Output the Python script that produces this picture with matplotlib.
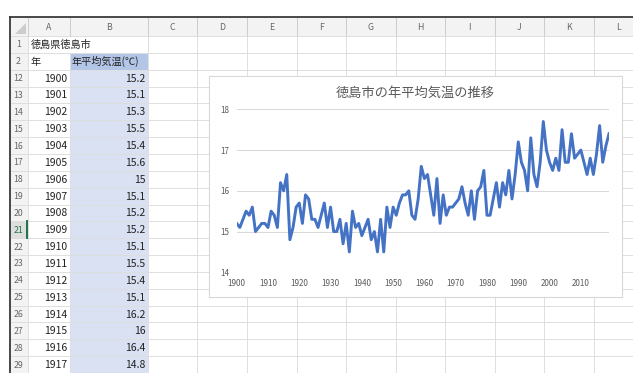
import matplotlib
matplotlib.use("Agg")
import matplotlib.pyplot as plt
from matplotlib.patches import Rectangle, Polygon

plt.rcParams['font.family'] = ['Noto Sans CJK JP', 'DejaVu Sans']

# data
years = list(range(1900, 2020))
temps = [
    15.2, 15.1, 15.3, 15.5, 15.4, 15.6, 15.0, 15.1, 15.2, 15.2,  # 1900s
    15.1, 15.5, 15.4, 15.1, 16.2, 16.0, 16.4, 14.8, 15.1, 15.6,  # 1910s
    15.7, 15.2, 15.9, 15.8, 15.3, 15.3, 15.1, 15.4, 15.7, 15.1,  # 1920s
    15.6, 15.0, 15.0, 15.3, 14.7, 15.2, 14.5, 15.5, 15.1, 15.2,  # 1930s
    14.9, 15.1, 15.3, 14.8, 15.0, 14.5, 15.3, 14.5, 15.6, 15.1,  # 1940s
    15.6, 15.4, 15.7, 15.9, 15.9, 16.0, 15.4, 15.3, 15.8, 16.6,  # 1950s
    16.3, 16.4, 15.9, 15.4, 16.3, 15.2, 15.9, 15.4, 15.6, 15.6,  # 1960s
    15.7, 15.8, 16.1, 15.7, 15.4, 16.0, 15.3, 16.0, 16.1, 16.5,  # 1970s
    15.4, 15.4, 15.8, 16.2, 15.6, 16.2, 15.9, 16.5, 15.8, 16.4,  # 1980s
    17.2, 16.7, 16.5, 16.0, 17.3, 16.4, 16.1, 16.7, 17.7, 17.0,  # 1990s
    16.7, 16.5, 16.8, 16.5, 17.5, 16.7, 16.7, 17.4, 16.8, 16.9,  # 2000s
    17.0, 16.7, 16.4, 16.8, 16.4, 16.9, 17.6, 16.7, 17.1, 17.4,  # 2010s
]
col_letters = ['A', 'B', 'C', 'D', 'E', 'F', 'G', 'H', 'I', 'J', 'K', 'L']
row_labels = ['1', '2'] + [str(r) for r in range(12, 30)]
n_table = 18  # rows 12..29 show 1900..1917

W, H = 633, 373
fig = plt.figure(figsize=(W / 100, H / 100), dpi=100)
bg = fig.add_axes([0, 0, 1, 1])
bg.set_xlim(0, W)
bg.set_ylim(H, 0)
bg.axis('off')

col_edges = [10, 27.5, 70, 147.5, 197, 246.6, 296.5, 346, 395.5, 445, 494.5, 544, 593.5, 643]
top = 17
head_h = 19
row_h = 16.85
row_tops = [top + head_h + i * row_h for i in range(len(row_labels))]
grid_c = '#dedede'
head_c = '#f3f3f3'

# header backgrounds
bg.add_patch(Rectangle((10, top), W - 10, head_h, fc=head_c, ec='none', zorder=1))
bg.add_patch(Rectangle((10, top), col_edges[1] - 10, H - top, fc=head_c, ec='none', zorder=1))
bg.add_patch(Polygon([(25.5, 23), (25.5, 33.5), (15, 33.5)], closed=True, fc='#cccccc', ec='none', zorder=2))

# column B highlight
for i, rt in enumerate(row_tops):
    if i == 0:
        continue
    fc = '#b4c6e7' if i == 1 else '#d9e1f2'
    bg.add_patch(Rectangle((col_edges[2], rt), col_edges[3] - col_edges[2], row_h, fc=fc, ec='none', zorder=1))

# selected row 21
sel = row_labels.index('21')
bg.add_patch(Rectangle((10, row_tops[sel]), col_edges[1] - 10, row_h, fc='#dedede', ec='none', zorder=1.5))
bg.plot([col_edges[1] - 0.5, col_edges[1] - 0.5], [row_tops[sel], row_tops[sel] + row_h], color='#217346', lw=1.4, zorder=3)

# grid lines
for rt in row_tops:
    bg.hlines(rt, 10, W, color=grid_c, lw=0.7, zorder=2)
for x in col_edges[1:]:
    bg.vlines(x, top, top + head_h, color='#cccccc', lw=0.7, zorder=2)
    if x == col_edges[2]:
        bg.vlines(x, row_tops[1], H, color=grid_c, lw=0.7, zorder=2)
    else:
        bg.vlines(x, top + head_h, H, color=grid_c, lw=0.7, zorder=2)

# frame
bg.plot([10, W], [top, top], color='#3a3a3a', lw=1.3, zorder=4)
bg.plot([10, 10], [top, H], color='#3a3a3a', lw=1.3, zorder=4)

# column letters
for j, lt in enumerate(col_letters):
    cx = (col_edges[j + 1] + col_edges[j + 2]) / 2
    bg.text(cx, top + head_h / 2 + 0.5, lt, ha='center', va='center', fontsize=6.3, color='#666666', zorder=5)

# row numbers
for i, lab in enumerate(row_labels):
    cy = row_tops[i] + row_h / 2 + 0.5
    c = '#217346' if lab == '21' else '#666666'
    bg.text(18.5, cy, lab, ha='center', va='center', fontsize=6.3, color=c, zorder=5)

# cell text
def cy_of(i):
    return row_tops[i] + row_h / 2 + 0.5

bg.text(31, cy_of(0), '徳島県徳島市', ha='left', va='center', fontsize=7.3, color='#222222', zorder=5)
bg.text(31, cy_of(1), '年', ha='left', va='center', fontsize=7.3, color='#222222', zorder=5)
bg.text(72, cy_of(1), '年平均気温(℃)', ha='left', va='center', fontsize=7.3, color='#222222', zorder=5)
for k in range(n_table):
    i = k + 2
    bg.text(67.5, cy_of(i), str(years[k]), ha='right', va='center', fontsize=7.5, color='#222222', zorder=5)
    bg.text(145.5, cy_of(i), f'{temps[k]:g}', ha='right', va='center', fontsize=7.5, color='#222222', zorder=5)

# chart box
bg.add_patch(Rectangle((209, 76), 413, 221, fc='white', ec='#d9d9d9', lw=0.8, zorder=10))
bg.text(415.5, 93, '徳島市の年平均気温の推移', ha='center', va='center', fontsize=9.5, color='#595959', zorder=11)

# chart plot area
x0, x1 = 236.7, 609.0
y18, y14 = 109.3, 272.3
ax = fig.add_axes([x0 / W, 1 - y14 / H, (x1 - x0) / W, (y14 - y18) / H])
ax.set_facecolor('none')
ax.plot(years, temps, color='#4472c4', lw=2.1, solid_joinstyle='round', zorder=3)
ax.set_xlim(1900, 2019)
ax.set_ylim(14, 18)
ax.set_yticks([14, 15, 16, 17, 18])
ax.set_xticks(list(range(1900, 2011, 10)))
ax.grid(axis='y', color='#d9d9d9', lw=0.75)
ax.set_axisbelow(True)
for s in ax.spines.values():
    s.set_visible(False)
ax.tick_params(length=0, labelsize=5.8, colors='#595959')
ax.tick_params(axis='y', pad=5.5)
ax.tick_params(axis='x', pad=5)

fig.savefig('out.png', dpi=100)
